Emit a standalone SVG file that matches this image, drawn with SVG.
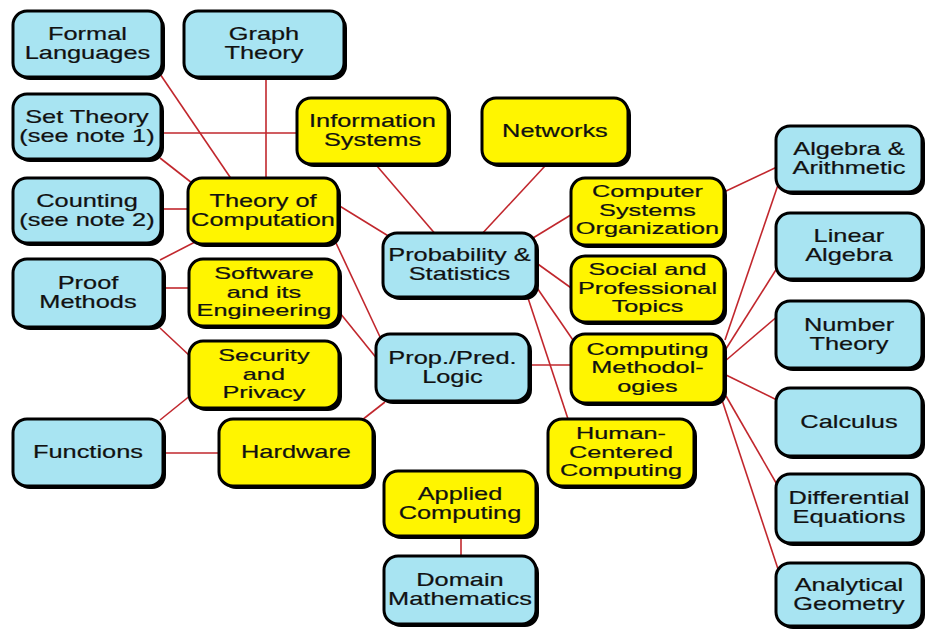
<svg xmlns="http://www.w3.org/2000/svg" width="927" height="631" viewBox="0 0 927 631">
<style>
.sh{fill:#000}
.b{fill:#a8e4f2;stroke:#000;stroke-width:3}
.y{fill:#fff500;stroke:#000;stroke-width:3}
text{font-family:"Liberation Sans",Arial,sans-serif;font-size:17.5px;fill:#111;text-anchor:middle;stroke:#111;stroke-width:0.2;transform-box:fill-box;transform-origin:center;transform:scaleX(1.45)}
text.t3{font-size:16px;transform:scaleX(1.58)}
#connectors line{stroke:#c1272d;stroke-width:1.6}
</style>
<rect width="927" height="631" fill="#fff"/>
<g id="connectors">
<line x1="160" y1="74" x2="232" y2="180"/>
<line x1="266" y1="78" x2="266" y2="180"/>
<line x1="161" y1="133" x2="300" y2="133"/>
<line x1="160" y1="158" x2="192" y2="183"/>
<line x1="161" y1="209" x2="190" y2="209"/>
<line x1="160" y1="260" x2="195" y2="242"/>
<line x1="163" y1="288" x2="190" y2="288"/>
<line x1="160" y1="328" x2="191" y2="357"/>
<line x1="160" y1="420" x2="191" y2="395"/>
<line x1="163" y1="453" x2="222" y2="453"/>
<line x1="362" y1="420" x2="385" y2="402"/>
<line x1="338" y1="205" x2="390" y2="237"/>
<line x1="336" y1="243" x2="381" y2="339"/>
<line x1="340" y1="313" x2="378" y2="360"/>
<line x1="377" y1="166" x2="437" y2="236"/>
<line x1="545" y1="166" x2="480" y2="236"/>
<line x1="574" y1="213" x2="533" y2="238"/>
<line x1="574" y1="290" x2="535" y2="262"/>
<line x1="533" y1="282" x2="575" y2="343"/>
<line x1="527" y1="295" x2="569" y2="422"/>
<line x1="529" y1="365" x2="574" y2="365"/>
<line x1="724" y1="192" x2="779" y2="166"/>
<line x1="725" y1="340" x2="779" y2="182"/>
<line x1="724" y1="352" x2="779" y2="265"/>
<line x1="724" y1="362" x2="779" y2="315"/>
<line x1="724" y1="374" x2="779" y2="401"/>
<line x1="726" y1="396" x2="779" y2="488"/>
<line x1="722" y1="400" x2="779" y2="572"/>
<line x1="461" y1="536" x2="461" y2="560"/>
</g>

<g id="formal-languages"><rect class="sh" x="16" y="14" width="149" height="66" rx="14"/><rect class="b" x="13" y="11" width="149" height="66" rx="14"/><text x="87.5" y="40.5">Formal<tspan x="87.5" dy="19">Languages</tspan></text></g>
<g id="graph-theory"><rect class="sh" x="187" y="14" width="160" height="66" rx="14"/><rect class="b" x="184" y="11" width="160" height="66" rx="14"/><text x="264" y="40.5">Graph<tspan x="264" dy="19">Theory</tspan></text></g>
<g id="set-theory"><rect class="sh" x="16" y="97" width="148" height="65" rx="14"/><rect class="b" x="13" y="94" width="148" height="65" rx="14"/><text x="87" y="123">Set Theory<tspan x="87" dy="19">(see note 1)</tspan></text></g>
<g id="counting"><rect class="sh" x="16" y="181" width="148" height="65" rx="14"/><rect class="b" x="13" y="178" width="148" height="65" rx="14"/><text x="87" y="207">Counting<tspan x="87" dy="19">(see note 2)</tspan></text></g>
<g id="theory-of-computation"><rect class="sh" x="191" y="181" width="150" height="66" rx="14"/><rect class="y" x="188" y="178" width="150" height="66" rx="14"/><text x="263" y="207">Theory of<tspan x="263" dy="19">Computation</tspan></text></g>
<g id="information-systems"><rect class="sh" x="300" y="101" width="151" height="66" rx="14"/><rect class="y" x="297" y="98" width="151" height="66" rx="14"/><text x="372.5" y="127.5">Information<tspan x="372.5" dy="19">Systems</tspan></text></g>
<g id="networks"><rect class="sh" x="485" y="101" width="146" height="66" rx="14"/><rect class="y" x="482" y="98" width="146" height="66" rx="14"/><text x="555" y="137">Networks</text></g>
<g id="probability-statistics"><rect class="sh" x="386" y="236" width="153" height="64" rx="14"/><rect class="b" x="383" y="233" width="153" height="64" rx="14"/><text x="459.5" y="261.5">Probability &amp;<tspan x="459.5" dy="19">Statistics</tspan></text></g>
<g id="computer-systems-organization"><rect class="sh" x="574" y="181" width="153" height="67" rx="14"/><rect class="y" x="571" y="178" width="153" height="67" rx="14"/><text class="t3" x="647.5" y="197.5">Computer<tspan x="647.5" dy="18.5">Systems</tspan><tspan x="647.5" dy="18.5">Organization</tspan></text></g>
<g id="social-professional-topics"><rect class="sh" x="574" y="259" width="153" height="66" rx="14"/><rect class="y" x="571" y="256" width="153" height="66" rx="14"/><text class="t3" x="647.5" y="275.5">Social and<tspan x="647.5" dy="18.5">Professional</tspan><tspan x="647.5" dy="18.5">Topics</tspan></text></g>
<g id="computing-methodologies"><rect class="sh" x="574" y="337" width="153" height="69" rx="14"/><rect class="y" x="571" y="334" width="153" height="69" rx="14"/><text class="t3" x="647.5" y="355">Computing<tspan x="647.5" dy="18.5">Methodol-</tspan><tspan x="647.5" dy="18.5">ogies</tspan></text></g>
<g id="algebra-arithmetic"><rect class="sh" x="779" y="129" width="146" height="66" rx="14"/><rect class="b" x="776" y="126" width="146" height="66" rx="14"/><text x="849" y="155.5">Algebra &amp;<tspan x="849" dy="19">Arithmetic</tspan></text></g>
<g id="linear-algebra"><rect class="sh" x="779" y="216" width="146" height="66" rx="14"/><rect class="b" x="776" y="213" width="146" height="66" rx="14"/><text x="849" y="242.5">Linear<tspan x="849" dy="19">Algebra</tspan></text></g>
<g id="number-theory"><rect class="sh" x="779" y="304" width="146" height="67" rx="14"/><rect class="b" x="776" y="301" width="146" height="67" rx="14"/><text x="849" y="331">Number<tspan x="849" dy="19">Theory</tspan></text></g>
<g id="calculus"><rect class="sh" x="779" y="391" width="146" height="68" rx="14"/><rect class="b" x="776" y="388" width="146" height="68" rx="14"/><text x="849" y="428">Calculus</text></g>
<g id="differential-equations"><rect class="sh" x="779" y="477" width="146" height="69" rx="14"/><rect class="b" x="776" y="474" width="146" height="69" rx="14"/><text x="849" y="504">Differential<tspan x="849" dy="19">Equations</tspan></text></g>
<g id="analytical-geometry"><rect class="sh" x="779" y="566" width="146" height="63" rx="14"/><rect class="b" x="776" y="563" width="146" height="63" rx="14"/><text x="849" y="591">Analytical<tspan x="849" dy="19">Geometry</tspan></text></g>
<g id="proof-methods"><rect class="sh" x="16" y="262" width="150" height="68" rx="14"/><rect class="b" x="13" y="259" width="150" height="68" rx="14"/><text x="88" y="289.5">Proof<tspan x="88" dy="19">Methods</tspan></text></g>
<g id="software-engineering"><rect class="sh" x="192" y="262" width="150" height="67" rx="14"/><rect class="y" x="189" y="259" width="150" height="67" rx="14"/><text class="t3" x="264" y="279.5">Software<tspan x="264" dy="18.5">and its</tspan><tspan x="264" dy="18.5">Engineering</tspan></text></g>
<g id="security-privacy"><rect class="sh" x="192" y="344" width="150" height="67" rx="14"/><rect class="y" x="189" y="341" width="150" height="67" rx="14"/><text class="t3" x="264" y="361.5">Security<tspan x="264" dy="18.5">and</tspan><tspan x="264" dy="18.5">Privacy</tspan></text></g>
<g id="functions"><rect class="sh" x="16" y="422" width="150" height="67" rx="14"/><rect class="b" x="13" y="419" width="150" height="67" rx="14"/><text x="88" y="458.5">Functions</text></g>
<g id="hardware"><rect class="sh" x="222" y="422" width="154" height="67" rx="14"/><rect class="y" x="219" y="419" width="154" height="67" rx="14"/><text x="296" y="458.5">Hardware</text></g>
<g id="prop-pred-logic"><rect class="sh" x="379" y="337" width="153" height="67" rx="14"/><rect class="b" x="376" y="334" width="153" height="67" rx="14"/><text x="452.5" y="364">Prop./Pred.<tspan x="452.5" dy="19">Logic</tspan></text></g>
<g id="human-centered-computing"><rect class="sh" x="551" y="422" width="146" height="67" rx="14"/><rect class="y" x="548" y="419" width="146" height="67" rx="14"/><text class="t3" x="621" y="439.5">Human-<tspan x="621" dy="18.5">Centered</tspan><tspan x="621" dy="18.5">Computing</tspan></text></g>
<g id="applied-computing"><rect class="sh" x="387" y="474" width="152" height="65" rx="14"/><rect class="y" x="384" y="471" width="152" height="65" rx="14"/><text x="460" y="500">Applied<tspan x="460" dy="19">Computing</tspan></text></g>
<g id="domain-mathematics"><rect class="sh" x="387" y="559" width="152" height="68" rx="14"/><rect class="b" x="384" y="556" width="152" height="68" rx="14"/><text x="460" y="586.5">Domain<tspan x="460" dy="19">Mathematics</tspan></text></g>
</svg>
